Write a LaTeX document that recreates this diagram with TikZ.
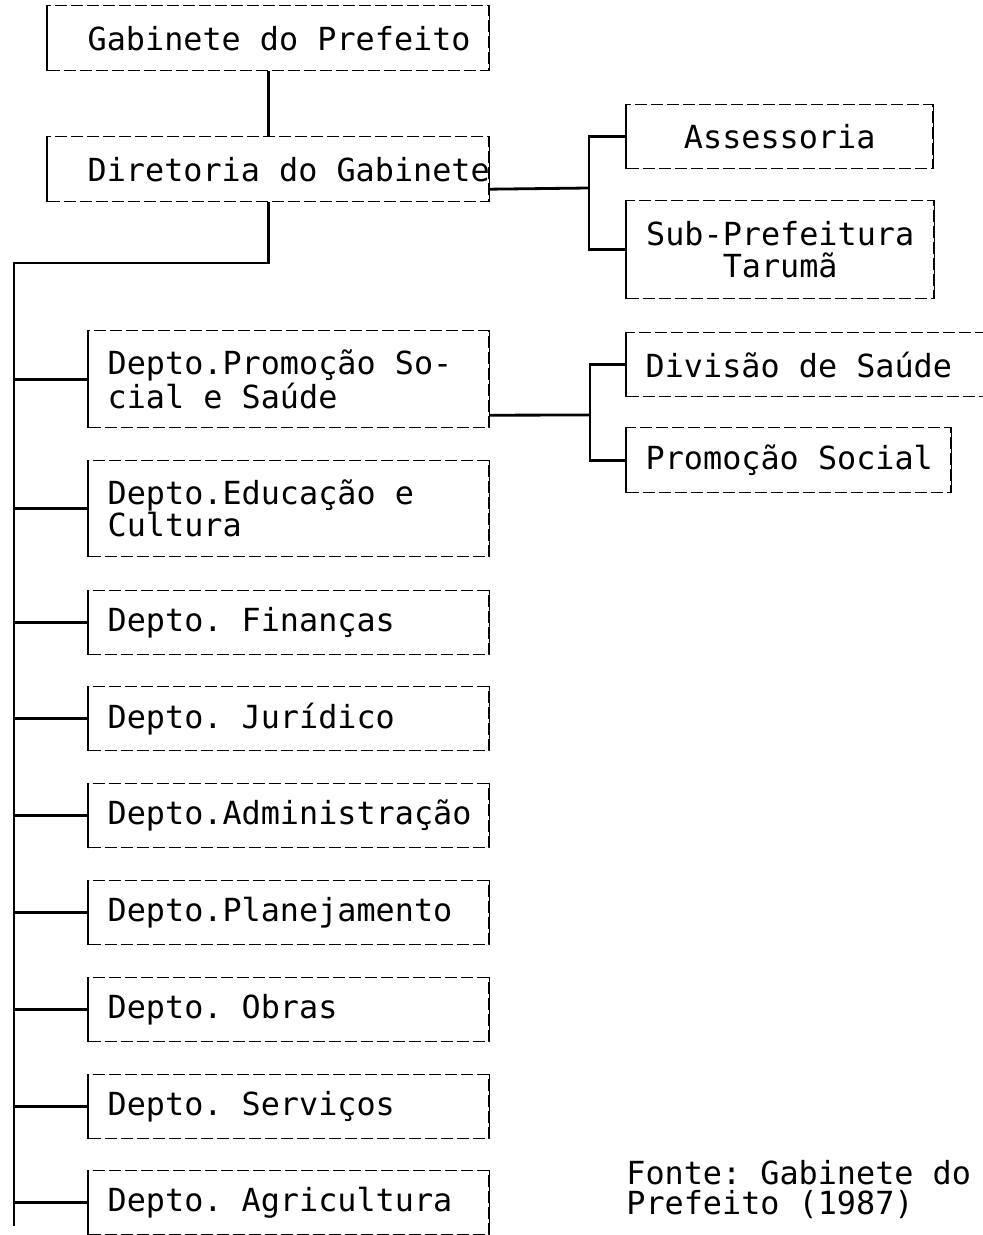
\documentclass[tikz,border=0pt]{standalone}
\usepackage{fontspec}
\setmainfont[WordSpace={1,0,0}]{DejaVu Sans Mono}
\usetikzlibrary{calc}
\hyphenpenalty=10000
\frenchspacing
\newcommand\orgfont{\fontsize{15.9pt}{16pt}\selectfont}
\newcommand\notefont{\fontsize{15.9pt}{15pt}\selectfont}

\begin{document}
\begin{tikzpicture}[x=0.5pt,y=-0.5pt,
                    every node/.style={font=\orgfont},
                    unit/.style={draw,line width=0.7pt,dash pattern=on 6pt off 2pt,anchor=north west,align=flush left,inner ysep=0pt,
                      append after command={(\tikzlastnode.north west) edge[solid,line width=0.7pt] (\tikzlastnode.south west)
                                            (\tikzlastnode.north east) edge[solid,line width=0.7pt] (\tikzlastnode.south east)}},
                    top unit/.style={unit,minimum width=220.5pt,minimum height=32.5pt,inner xsep=20pt,text width=180.5pt},
                    dept/.style={unit,minimum width=200pt,minimum height=32pt,inner xsep=9.5pt,text width=181pt},
                    link/.style={line width=1.4pt}]

  \useasboundingbox (0,0) rectangle (982,1235);

  % top of the chart
  \node[top unit] (gab) at (47,5) {Gabinete~do~Prefeito};
  \node[top unit] (dir) at (47,136) {Diretoria~do~Gabinete};

  % units on the right
  \node[unit,minimum width=153pt,minimum height=32pt,align=center] (asse) at (626,104) {Assessoria};
  \node[unit,minimum width=153.5pt,minimum height=49pt,align=center] (sub) at (626,200) {Sub-Prefeitura\\Tarumã};
  \node[unit,minimum width=182pt,minimum height=32pt,inner xsep=9.5pt,text width=163pt] (div) at (626,332) {Divisão~de~Saúde};
  \node[unit,minimum width=162pt,minimum height=32.5pt,inner xsep=9.5pt,text width=143pt] (psoc) at (626,427) {Promoção~Social};

  % departments
  \node[dept,minimum height=48.5pt] (dps) at (88,330) {Depto.Promoção So-\\cial e Saúde};
  \node[dept,minimum height=48pt] (dec) at (88,460) {Depto.Educação e\\Cultura};
  \node[dept] (dfin) at (88,590) {Depto. Finanças};
  \node[dept] (djur) at (88,686) {Depto. Jurídico};
  \node[dept] (dadm) at (88,783) {Depto.Administração};
  \node[dept] (dplan) at (88,880) {Depto.Planejamento};
  \node[dept] (dobr) at (88,977) {Depto. Obras};
  \node[dept] (dserv) at (88,1074) {Depto. Serviços};
  \node[dept] (dagr) at (88,1170) {Depto. Agricultura};

  \node[anchor=west,align=left,inner sep=0pt,font=\notefont] (src) at (626,1190) {Fonte: Gabinete do\\Prefeito (1987)};

  \coordinate (trunk top) at (14,263);
  \coordinate (trunk end) at (14,1226);
  \coordinate (dir fork) at (589,188);
  \coordinate (dps fork) at (590,415);

  \draw[link] (gab.south) -- (dir.north);
  \draw[link] (dir.south) |- (trunk top) -- (trunk end);

  \path[link]
    (dps.west) edge (dps.west -| trunk top)
    (dec.west) edge (dec.west -| trunk top)
    (dfin.west) edge (dfin.west -| trunk top)
    (djur.west) edge (djur.west -| trunk top)
    (dadm.west) edge (dadm.west -| trunk top)
    (dplan.west) edge (dplan.west -| trunk top)
    (dobr.west) edge (dobr.west -| trunk top)
    (dserv.west) edge (dserv.west -| trunk top)
    (dagr.west) edge (dagr.west -| trunk top);

  \draw[link] ([yshift=-10pt]dir.east) -- (dir fork);
  \draw[link] (asse.west) -| (dir fork) |- (sub.west);
  \draw[link] ([yshift=-18pt]dps.east) -- (dps fork);
  \draw[link] (div.west) -| (dps fork) |- (psoc.west);
\end{tikzpicture}
\end{document}
